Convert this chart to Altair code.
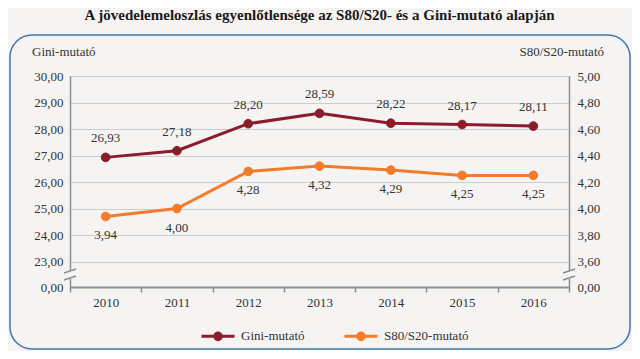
import altair as alt
import pandas as pd

years = ["2010", "2011", "2012", "2013", "2014", "2015", "2016"]
gini = [26.93, 27.18, 28.20, 28.59, 28.22, 28.17, 28.11]
s80 = [3.94, 4.00, 4.28, 4.32, 4.29, 4.25, 4.25]
series_names = ["Gini-mutató", "S80/S20-mutató"]
colors = ["#8B1C2C", "#F47B2A"]
gini_ticks = [22.04, 23, 24, 25, 26, 27, 28, 29, 30]
s80_ticks = [3.408, 3.6, 3.8, 4.0, 4.2, 4.4, 4.6, 4.8, 5.0]
title_text = "A jövedelemeloszlás egyenlőtlensége az S80/S20- és a Gini-mutató alapján"
left_title = "Gini-mutató"
right_title = "S80/S20-mutató"

FONT = "Liberation Serif"
TXT = "#333333"
AXC = "#8E8E8E"
BG = "#F5F4F2"

df = pd.DataFrame({
    "year": years * 2,
    "value": gini + s80,
    "series": [series_names[0]] * len(years) + [series_names[1]] * len(years),
})

base = alt.Chart(df).transform_calculate(
    label="replace(format(datum.value, '.2f'), '.', ',')"
)

x_enc = alt.X(
    "year:O", title=None, bandPosition=0.5,
    scale=alt.Scale(type="band", paddingInner=0, paddingOuter=0),
    axis=alt.Axis(tickBand="extent", labelAngle=0, grid=False, domainColor=AXC,
                  domainWidth=2, tickColor=AXC, tickWidth=1.5, tickSize=5,
                  labelPadding=4, labelFont=FONT, labelFontSize=13, labelColor=TXT),
)

leg = alt.Legend(
    title=None, orient="none", legendX=130, legendY=242, direction="horizontal",
    symbolType="M-1,0L1,0M0.2,0A0.2,0.2 0 1,1 -0.2,0A0.2,0.2 0 1,1 0.2,0Z",
    symbolSize=1089, symbolStrokeWidth=3, labelFont=FONT, labelFontSize=13,
    labelColor=TXT, labelOffset=5, columnPadding=33,
)
stroke_enc = alt.Stroke("series:N", scale=alt.Scale(domain=series_names, range=colors), legend=leg)
fill_enc = alt.Fill("series:N", scale=alt.Scale(domain=series_names, range=colors), legend=leg)

gini_y = alt.Y(
    "value:Q", scale=alt.Scale(domain=[22.04, 30], nice=False, zero=False),
    axis=alt.Axis(orient="left", title=None, values=gini_ticks,
                  labelExpr="datum.value < 22.5 ? '0,00' : replace(format(datum.value, '.2f'), '.', ',')",
                  grid=True, gridColor="#CDCDCD", gridWidth=1, tickSize=0,
                  domainColor=AXC, domainWidth=1.5, labelPadding=7,
                  labelFont=FONT, labelFontSize=13, labelColor=TXT),
)
s80_y = alt.Y(
    "value:Q", scale=alt.Scale(domain=[3.408, 5], nice=False, zero=False),
    axis=alt.Axis(orient="right", title=None, values=s80_ticks,
                  labelExpr="datum.value < 3.5 ? '0,00' : replace(format(datum.value, '.2f'), '.', ',')",
                  grid=False, tickSize=0, domainColor=AXC, domainWidth=1.5, labelPadding=8,
                  labelFont=FONT, labelFontSize=13, labelColor=TXT),
)


def series_layer(name, y_enc, dy):
    b = base.transform_filter(alt.datum.series == name)
    line = b.mark_line(strokeWidth=3).encode(x=x_enc, y=y_enc, stroke=stroke_enc)
    pts = b.mark_point(filled=True, size=75, opacity=1, strokeWidth=1).encode(
        x=x_enc, y=y_enc, fill=fill_enc, stroke=stroke_enc)
    txt = b.mark_text(dy=dy, font=FONT, fontSize=13, color=TXT).encode(
        x=x_enc, y=y_enc, text="label:N")
    return alt.layer(line, pts, txt)


gini_layer = series_layer(series_names[0], gini_y, -19)
s80_layer = series_layer(series_names[1], s80_y, 19)

one = alt.Data(values=[{"k": 1}])

box = alt.Chart(one).mark_rect(filled=False, stroke="#3F77B0", strokeWidth=1.5, cornerRadius=22).encode(
    x=alt.value(-60), x2=alt.value(560), y=alt.value(-41), y2=alt.value(273))

title = alt.Chart(one).mark_text(font=FONT, fontSize=15, fontWeight="bold", color="#1a1a1a",
                                 align="center", baseline="middle").encode(
    x=alt.value(249.5), y=alt.value(-61), text=alt.value(title_text))

ltitle = alt.Chart(one).mark_text(font=FONT, fontSize=13, color=TXT, align="left", baseline="middle").encode(
    x=alt.value(-38), y=alt.value(-24), text=alt.value(left_title))
rtitle = alt.Chart(one).mark_text(font=FONT, fontSize=13, color=TXT, align="right", baseline="middle").encode(
    x=alt.value(534), y=alt.value(-24), text=alt.value(right_title))

breaks = []
for ax in (0, 499):
    breaks.append(alt.Chart(one).mark_rect(fill=BG).encode(
        x=alt.value(ax - 3), x2=alt.value(ax + 3), y=alt.value(195), y2=alt.value(203)))
    for yy in (197, 204):
        breaks.append(alt.Chart(one).mark_rule(color=AXC, strokeWidth=1.5).encode(
            x=alt.value(ax - 6), x2=alt.value(ax + 6), y=alt.value(yy), y2=alt.value(yy - 4)))

chart = alt.layer(box, gini_layer, s80_layer, title, ltitle, rtitle, *breaks).resolve_scale(
    y="independent"
).properties(
    width=499, height=211,
    padding={"left": 62, "top": 68, "right": 63, "bottom": 64},
    autosize=alt.AutoSizeParams(type="none"),
    background=BG,
).configure_view(stroke=None)

chart.save("out.html", embed_options={"renderer": "svg", "actions": False})
